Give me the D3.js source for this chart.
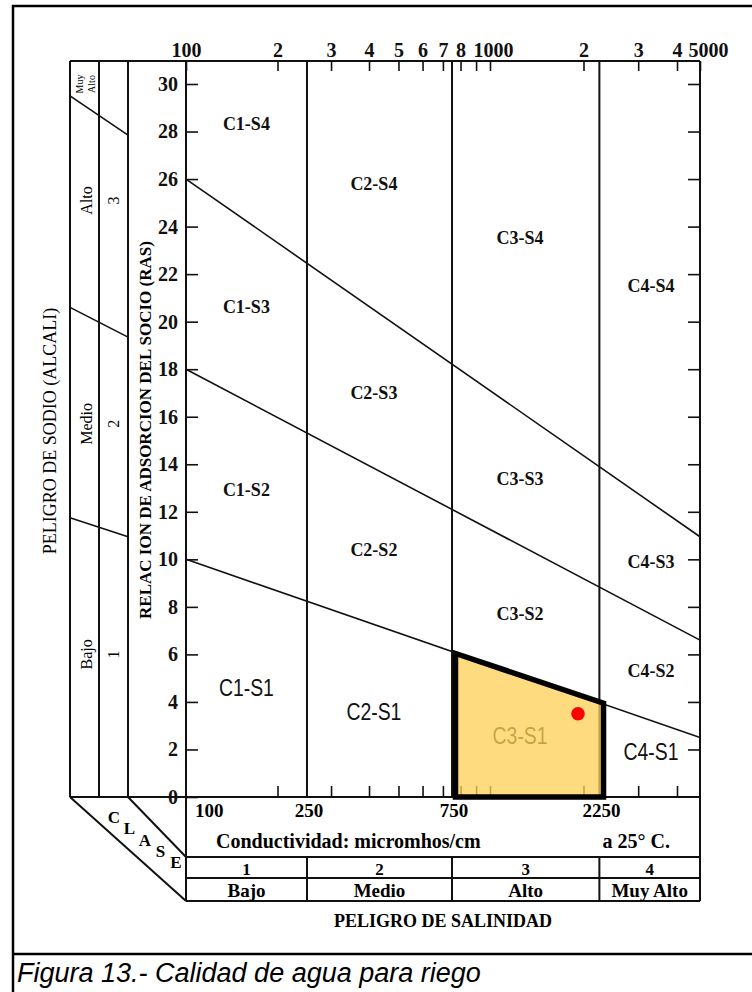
<!DOCTYPE html>
<html>
<head>
<meta charset="utf-8">
<script src="https://cdn.jsdelivr.net/npm/d3@7"></script>
<style>
  body { margin: 0; background: #fff; }
  svg { display: block; }
</style>
</head>
<body>
<svg id="chart" width="752" height="992"></svg>
<script>
// ---- data ----
var salinityClasses = ['C1', 'C2', 'C3', 'C4'];
var sodiumClasses = ['S1', 'S2', 'S3', 'S4'];
var ecBreaks = [100, 250, 750, 2250, 5000];        // conductivity class limits
var ecBottomLabels = [100, 250, 750, 2250];
var classNumbers = ['1', '2', '3', '4'];
var classNames = ['Bajo', 'Medio', 'Alto', 'Muy Alto'];
var topTickValues = [100, 200, 300, 400, 500, 600, 700, 800, 900, 1000, 2000, 3000, 4000, 5000];
var topTickLabels = ['100', '2', '3', '4', '5', '6', '7', '8', '', '1000', '2', '3', '4', '5000'];
var sarTicks = [0, 2, 4, 6, 8, 10, 12, 14, 16, 18, 20, 22, 24, 26, 28, 30];

// sodium boundary lines (S1/S2, S2/S3, S3/S4): SAR at EC=100 and EC=5000
var sarAt100 = [10, 18, 26];
var sarAt5000 = [2.5, 6.6, 10.95];
// same boundaries in the left class columns (outer edge, inner edge)
var sarColOuter = [11.75, 20.6, 29.5];
var sarColInner = [10.95, 19.35, 27.85];
var sodiumNames = ['Bajo', 'Medio', 'Alto'];
var sodiumNumbers = ['1', '2', '3'];
var sodiumLabelSar = [6.0, 15.7, 25.1];
var muyAltoSar = 30.0;

// where each zone label sits (EC per salinity class, SAR per sodium class)
var labelEc = [158, 415, 1250, 3300];
var labelSar = [
  [4.6, 12.9, 20.6, 28.3],
  [3.6, 10.4, 17.0, 25.8],
  [2.6, 7.7, 13.4, 23.5],
  [1.9, 5.3, 9.9, 21.5]
];

// highlighted C3-S1 zone and the sample
var zoneEc = [770, 770, 2320, 2320];
var zoneSar = [0, 6.04, 3.95, 0];
var sampleEc = [1920];
var sampleSar = [3.5];

// ---- layout ----
var serif = '"Liberation Serif","Times New Roman",serif';
var sans = '"Liberation Sans",Arial,sans-serif';
var colX = [70, 99, 128];           // left class columns
var tableY = [857, 878, 901];       // salinity class table rows

var svg = d3.select('#chart');

var x = d3.scaleLog()
  .domain([100, 1000, 4000, 5000])
  .range([186, 490, 677, 700]);

var y = d3.scaleLinear()
  .domain([0, 30])
  .range([797, 84]);

var plotTop = 61, plotBottom = y(0);
var plotLeft = x(100), plotRight = x(5000);

// outer box and caption
svg.append('path')
  .attr('d', 'M13,992V6H752M13,954H752')
  .attr('fill', 'none').attr('stroke', '#000').attr('stroke-width', 2.5);

svg.append('text')
  .attr('x', 17).attr('y', 982)
  .attr('font-family', sans).attr('font-style', 'italic').attr('font-size', 27)
  .text('Figura 13.- Calidad de agua para riego');

// frame lines
var frame = svg.append('g').attr('stroke', '#111').attr('stroke-width', 2).attr('fill', 'none');
frame.append('line').attr('x1', colX[0]).attr('x2', plotRight).attr('y1', plotTop).attr('y2', plotTop);
frame.append('line').attr('x1', colX[0]).attr('x2', plotRight).attr('y1', plotBottom).attr('y2', plotBottom);
frame.append('line').attr('x1', plotLeft).attr('x2', plotLeft).attr('y1', plotTop).attr('y2', tableY[2]);
frame.append('line').attr('x1', plotRight).attr('x2', plotRight).attr('y1', plotTop).attr('y2', tableY[2]);
colX.forEach(function(cx){
  frame.append('line').attr('x1', cx).attr('x2', cx).attr('y1', plotTop).attr('y2', plotBottom);
});
tableY.forEach(function(ty){
  frame.append('line').attr('x1', plotLeft).attr('x2', plotRight).attr('y1', ty).attr('y2', ty);
});
// diagonals of the "CLASE" band
frame.append('line').attr('x1', colX[0]).attr('y1', plotBottom).attr('x2', plotLeft).attr('y2', tableY[2]);
frame.append('line').attr('x1', colX[2]).attr('y1', plotBottom).attr('x2', plotLeft).attr('y2', tableY[0]);

// salinity class limits
ecBreaks.slice(1, 4).forEach(function(ec){
  frame.append('line').attr('x1', x(ec)).attr('x2', x(ec)).attr('y1', plotTop).attr('y2', plotBottom);
  frame.append('line').attr('x1', x(ec)).attr('x2', x(ec)).attr('y1', tableY[0]).attr('y2', tableY[2]);
});

// sodium boundary lines
var lines = svg.append('g').attr('stroke', '#111').attr('stroke-width', 1.6);
sarAt100.forEach(function(s, i){
  lines.append('line')
    .attr('x1', x(100)).attr('y1', y(s))
    .attr('x2', x(5000)).attr('y2', y(sarAt5000[i]));
  lines.append('line')
    .attr('x1', colX[0]).attr('y1', y(sarColOuter[i]))
    .attr('x2', colX[2]).attr('y2', y(sarColInner[i]));
});

// axes
function styleAxis(g, size){
  g.select('.domain').remove();
  g.selectAll('.tick line').attr('stroke', '#111').attr('stroke-width', 1.6);
  g.selectAll('.tick text')
    .attr('fill', '#111')
    .attr('font-family', serif).attr('font-weight', 'bold').attr('font-size', size);
}

var topAxis = svg.append('g')
  .attr('transform', 'translate(0,' + plotTop + ')')
  .call(d3.axisTop(x).tickValues(topTickValues)
    .tickFormat(function(d, i){ return topTickLabels[i]; })
    .tickSizeInner(-10).tickSizeOuter(0).tickPadding(4))
  .call(styleAxis, 20);
// the end labels sit a little right of their ticks
topAxis.selectAll('.tick text')
  .attr('dx', function(d){ return d === 5000 ? 8 : (d === 1000 ? 3 : 0); });

svg.append('g')
  .attr('transform', 'translate(0,' + plotBottom + ')')
  .call(d3.axisBottom(x).tickValues(topTickValues.slice(1, -1))
    .tickFormat('').tickSizeInner(-11).tickSizeOuter(0))
  .call(styleAxis, 19);

svg.append('g')
  .attr('transform', 'translate(' + plotLeft + ',0)')
  .call(d3.axisLeft(y).tickValues(sarTicks)
    .tickSizeInner(-12).tickSizeOuter(0).tickPadding(8))
  .call(styleAxis, 20);

svg.append('g')
  .attr('transform', 'translate(' + plotRight + ',0)')
  .call(d3.axisRight(y).tickValues(sarTicks.slice(1))
    .tickFormat('').tickSizeInner(-12).tickSizeOuter(0))
  .call(styleAxis, 20);

// conductivity labels under the axis
svg.append('g').selectAll('text')
  .data(ecBottomLabels)
  .join('text')
  .attr('x', function(d, i){ return i === 0 ? x(d) + 9 : x(d) + 2; })
  .attr('y', 817)
  .attr('text-anchor', function(d, i){ return i === 0 ? 'start' : 'middle'; })
  .attr('font-family', serif).attr('font-weight', 'bold').attr('font-size', 19)
  .text(function(d){ return d; });

svg.append('text')
  .attr('x', 216).attr('y', 848)
  .attr('font-family', serif).attr('font-weight', 'bold').attr('font-size', 20)
  .text('Conductividad: micromhos/cm');
svg.append('text')
  .attr('x', 670).attr('y', 848).attr('text-anchor', 'end')
  .attr('font-family', serif).attr('font-weight', 'bold').attr('font-size', 20)
  .text('a 25\u00b0 C.');

// salinity class table
var mids = salinityClasses.map(function(c, i){
  return (x(ecBreaks[i]) + x(ecBreaks[i + 1])) / 2;
});
svg.append('g').selectAll('text')
  .data(classNumbers).join('text')
  .attr('x', function(d, i){ return mids[i]; }).attr('y', 875)
  .attr('text-anchor', 'middle')
  .attr('font-family', serif).attr('font-weight', 'bold').attr('font-size', 17)
  .text(function(d){ return d; });
svg.append('g').selectAll('text')
  .data(classNames).join('text')
  .attr('x', function(d, i){ return mids[i]; }).attr('y', 897)
  .attr('text-anchor', 'middle')
  .attr('font-family', serif).attr('font-weight', 'bold').attr('font-size', 19)
  .text(function(d){ return d; });

svg.append('text')
  .attr('x', (plotLeft + plotRight) / 2).attr('y', 927).attr('text-anchor', 'middle')
  .attr('font-family', serif).attr('font-weight', 'bold').attr('font-size', 18)
  .text('PELIGRO DE SALINIDAD');

// "CLASE" down the diagonal band
svg.append('g').selectAll('text')
  .data('CLASE'.split('')).join('text')
  .attr('x', function(d, i){ return 114 + i * 15.5; })
  .attr('y', function(d, i){ return 823 + i * 11.3; })
  .attr('text-anchor', 'middle')
  .attr('font-family', serif).attr('font-weight', 'bold').attr('font-size', 17)
  .text(function(d){ return d; });

// rotated axis titles
function vtext(cx, cy, str, size, weight){
  return svg.append('text')
    .attr('transform', 'translate(' + cx + ',' + cy + ') rotate(-90)')
    .attr('text-anchor', 'middle').attr('dominant-baseline', 'central')
    .attr('font-family', serif).attr('font-weight', weight).attr('font-size', size)
    .text(str);
}
vtext(50, 431, 'PELIGRO DE SODIO (ALCALI)', 18, 'normal');
vtext(145, 430, 'RELAC ION DE ADSORCION DEL SOCIO (RAS)', 17, 'bold');

// sodium class columns
sodiumNames.forEach(function(n, i){
  vtext((colX[0] + colX[1]) / 2 + 2, y(sodiumLabelSar[i]), n, 16, 'normal');
  vtext((colX[1] + colX[2]) / 2, y(sodiumLabelSar[i]), sodiumNumbers[i], 16, 'normal');
});
vtext(79, y(muyAltoSar), 'Muy', 10, 'normal');
vtext(91, y(muyAltoSar), 'Alto', 10, 'normal');

// zone labels
salinityClasses.forEach(function(c, i){
  sodiumClasses.forEach(function(s, j){
    var t = svg.append('text')
      .attr('x', x(labelEc[i])).attr('y', y(labelSar[i][j]))
      .attr('text-anchor', 'middle').attr('dominant-baseline', 'central')
      .attr('fill', '#111')
      .text(c + '-' + s);
    if (j === 0) {
      t.attr('font-family', sans).attr('font-size', 24)
        .attr('textLength', 55).attr('lengthAdjust', 'spacingAndGlyphs');
    } else {
      t.attr('font-family', serif).attr('font-weight', 'bold').attr('font-size', 18);
    }
  });
});

// highlighted zone over the chart
var zonePts = zoneEc.map(function(e, i){ return [x(e), y(zoneSar[i])]; });
svg.append('path')
  .attr('d', d3.line()(zonePts) + 'Z')
  .attr('fill', 'rgb(255,208,88)').attr('fill-opacity', 0.76)
  .attr('stroke', '#000').attr('stroke-width', 5.5).attr('stroke-linejoin', 'miter');

svg.append('g').selectAll('circle')
  .data(sampleEc).join('circle')
  .attr('cx', function(d){ return x(d); })
  .attr('cy', function(d, i){ return y(sampleSar[i]); })
  .attr('r', 6.8)
  .attr('fill', '#ff0000');
</script>
</body>
</html>
